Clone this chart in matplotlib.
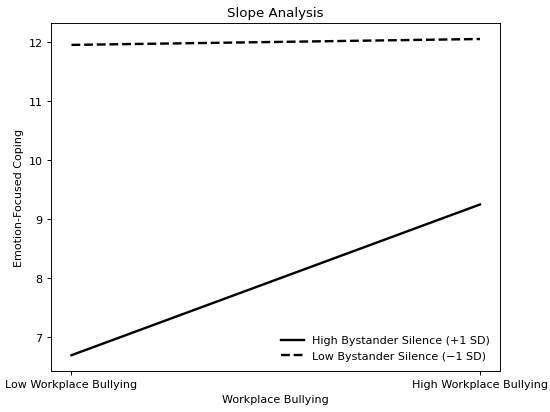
import matplotlib
matplotlib.use("Agg")
import matplotlib.pyplot as plt

plt.rcParams["font.size"] = 9.3

x_labels = ["Low Workplace Bullying", "High Workplace Bullying"]
high_silence = [6.7, 9.25]
low_silence = [11.95, 12.05]

fig, ax = plt.subplots(figsize=(6.4, 4.8), dpi=86)
xs = list(range(len(x_labels)))
ax.plot(xs, high_silence, color="black", linestyle="-", linewidth=2,
        label="High Bystander Silence (+1 SD)")
ax.plot(xs, low_silence, color="black", linestyle="--", linewidth=2,
        label="Low Bystander Silence (\u22121 SD)")
ax.set_xticks(xs)
ax.set_xticklabels(x_labels)
ax.set_xlabel("Workplace Bullying")
ax.set_ylabel("Emotion-Focused Coping")
ax.set_title("Slope Analysis")
ax.legend(loc="lower right", frameon=False)
fig.subplots_adjust(left=51/550, right=500/550, top=1-24/413, bottom=1-372/413)
fig.savefig("out.png", dpi=86)
